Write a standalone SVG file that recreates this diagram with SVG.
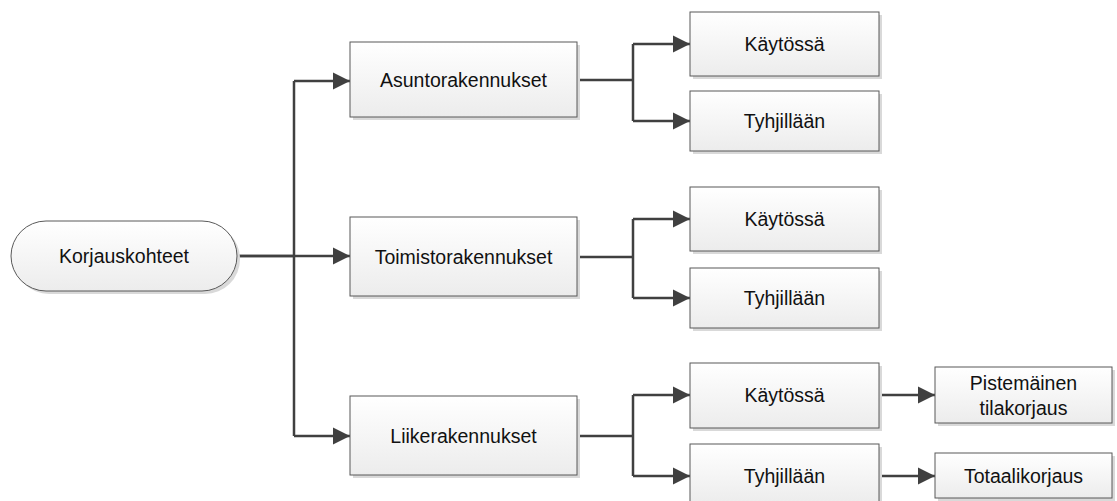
<svg xmlns="http://www.w3.org/2000/svg" width="1117" height="501" viewBox="0 0 1117 501">
  <defs>
    <linearGradient id="boxFill" x1="0" y1="0" x2="0" y2="1">
      <stop offset="0" stop-color="#ffffff"/>
      <stop offset="1" stop-color="#ececec"/>
    </linearGradient>
    <marker id="arrow" markerUnits="userSpaceOnUse" markerWidth="18" markerHeight="18" refX="17" refY="9" orient="auto">
      <path d="M0,0.5 L17,9 L0,17.5 z" fill="#404040"/>
    </marker>
  </defs>
  <style>
    .shadow { fill: #d9d9d9; }
    .box { fill: url(#boxFill); stroke: #595959; stroke-width: 1; }
    .label { font-family: "Liberation Sans", Arial, sans-serif; font-size: 19.5px; fill: #111111; text-anchor: middle; }
    .wire { fill: none; stroke: #404040; stroke-width: 2.5; }
    .arrowed { marker-end: url(#arrow); }
  </style>

  <rect width="1117" height="501" fill="#ffffff"/>

  <!-- connectors -->
  <g id="connectors">
    <path class="wire" d="M237,256 H294 M294,81 V436"/>
    <path class="wire arrowed" d="M294,81 H350"/>
    <path class="wire arrowed" d="M237,256 H350"/>
    <path class="wire arrowed" d="M294,436 H350"/>

    <path class="wire" d="M577,80 H633 M633,44 V121"/>
    <path class="wire arrowed" d="M633,44 H690"/>
    <path class="wire arrowed" d="M633,121 H690"/>

    <path class="wire" d="M577,257 H633 M633,219 V298"/>
    <path class="wire arrowed" d="M633,219 H690"/>
    <path class="wire arrowed" d="M633,298 H690"/>

    <path class="wire" d="M577,436 H633 M633,395 V476"/>
    <path class="wire arrowed" d="M633,395 H690"/>
    <path class="wire arrowed" d="M633,476 H690"/>

    <path class="wire arrowed" d="M879,395 H935"/>
    <path class="wire arrowed" d="M879,476 H935"/>
  </g>

  <!-- root -->
  <g id="korjauskohteet">
    <rect class="shadow" x="14" y="224" width="226" height="70" rx="35"/>
    <rect class="box" x="11" y="221" width="226" height="70" rx="35"/>
    <text class="label" x="124" y="256" dy="0.35em">Korjauskohteet</text>
  </g>

  <!-- building types -->
  <g id="asuntorakennukset">
    <rect class="shadow" x="353" y="45" width="227" height="75"/>
    <rect class="box" x="350" y="42" width="227" height="75"/>
    <text class="label" x="463.5" y="80" dy="0.35em">Asuntorakennukset</text>
  </g>
  <g id="toimistorakennukset">
    <rect class="shadow" x="353" y="220" width="227" height="79"/>
    <rect class="box" x="350" y="217" width="227" height="79"/>
    <text class="label" x="463.5" y="257" dy="0.35em">Toimistorakennukset</text>
  </g>
  <g id="liikerakennukset">
    <rect class="shadow" x="353" y="399" width="227" height="79"/>
    <rect class="box" x="350" y="396" width="227" height="79"/>
    <text class="label" x="463.5" y="436" dy="0.35em">Liikerakennukset</text>
  </g>

  <!-- usage status -->
  <g id="asunto-kaytossa">
    <rect class="shadow" x="693" y="15" width="189" height="64"/>
    <rect class="box" x="690" y="12" width="189" height="64"/>
    <text class="label" x="784.5" y="44" dy="0.35em">Käytössä</text>
  </g>
  <g id="asunto-tyhjillaan">
    <rect class="shadow" x="693" y="94" width="189" height="60"/>
    <rect class="box" x="690" y="91" width="189" height="60"/>
    <text class="label" x="784.5" y="121" dy="0.35em">Tyhjillään</text>
  </g>
  <g id="toimisto-kaytossa">
    <rect class="shadow" x="693" y="190" width="189" height="64"/>
    <rect class="box" x="690" y="187" width="189" height="64"/>
    <text class="label" x="784.5" y="219" dy="0.35em">Käytössä</text>
  </g>
  <g id="toimisto-tyhjillaan">
    <rect class="shadow" x="693" y="271" width="189" height="60"/>
    <rect class="box" x="690" y="268" width="189" height="60"/>
    <text class="label" x="784.5" y="298" dy="0.35em">Tyhjillään</text>
  </g>
  <g id="liike-kaytossa">
    <rect class="shadow" x="693" y="366" width="189" height="65"/>
    <rect class="box" x="690" y="363" width="189" height="65"/>
    <text class="label" x="784.5" y="395" dy="0.35em">Käytössä</text>
  </g>
  <g id="liike-tyhjillaan">
    <rect class="shadow" x="693" y="447" width="189" height="60"/>
    <rect class="box" x="690" y="444" width="189" height="60"/>
    <text class="label" x="784.5" y="476" dy="0.35em">Tyhjillään</text>
  </g>

  <!-- repair types -->
  <g id="pistemainen">
    <rect class="shadow" x="938" y="370" width="177" height="56"/>
    <rect class="box" x="935" y="367" width="177" height="56"/>
    <text class="label" x="1023.5" y="383" dy="0.35em">Pistemäinen</text>
    <text class="label" x="1023.5" y="408" dy="0.35em">tilakorjaus</text>
  </g>
  <g id="totaalikorjaus">
    <rect class="shadow" x="938" y="456" width="177" height="45"/>
    <rect class="box" x="935" y="453" width="177" height="45"/>
    <text class="label" x="1023.5" y="476" dy="0.35em">Totaalikorjaus</text>
  </g>
</svg>
